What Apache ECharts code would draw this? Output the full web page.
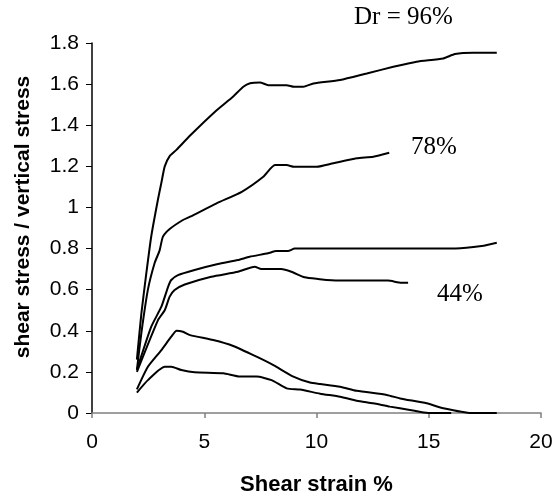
<!DOCTYPE html>
<html>
<head>
<meta charset="utf-8">
<script src="https://cdn.jsdelivr.net/npm/echarts@6/dist/echarts.min.js"></script>
<style>html,body{margin:0;padding:0;background:#fff}#c{width:554px;height:499px}</style>
</head>
<body>
<div id="c"></div>
<script>
// Dr = 96%
var s96_x = [2, 2.2, 2.42, 2.64, 2.94, 3.09, 3.24, 3.46, 3.76, 4.37, 5.48, 6.29, 6.74, 7.04, 7.48, 7.85, 8.67, 9.0, 9.41, 9.86, 11.05, 12.24, 13.42, 14.46, 15.65, 16.17, 16.99, 18.03];
var s96_y = [0.26, 0.485, 0.68, 0.86, 1.04, 1.12, 1.2, 1.25, 1.28, 1.35, 1.466, 1.54, 1.587, 1.604, 1.608, 1.595, 1.595, 1.587, 1.587, 1.603, 1.62, 1.652, 1.684, 1.709, 1.725, 1.746, 1.752, 1.752];
// Dr = 78%
var s78_x = [2, 2.2, 2.49, 2.79, 3.01, 3.16, 3.46, 4.05, 4.37, 5.55, 6.67, 7.63, 8.15, 8.67, 9.0, 9.71, 10.01, 10.75, 11.79, 12.53, 13.24];
var s78_y = [0.21, 0.39, 0.6, 0.73, 0.79, 0.858, 0.895, 0.939, 0.955, 1.02, 1.076, 1.149, 1.206, 1.206, 1.198, 1.198, 1.198, 1.215, 1.239, 1.247, 1.266];
// curve ending near 0.8
var s80_x = [2, 2.64, 3.09, 3.39, 3.53, 3.83, 4.57, 5.61, 6.5, 7.02, 7.84, 8.21, 8.73, 9.03, 14.97, 16.2, 17.36, 18.03];
var s80_y = [0.21, 0.42, 0.517, 0.614, 0.647, 0.671, 0.696, 0.725, 0.744, 0.76, 0.777, 0.788, 0.788, 0.8, 0.8, 0.8, 0.812, 0.828];
// curve ending near 0.63
var s63_x = [2, 2.94, 3.24, 3.46, 3.68, 4.13, 5.31, 6.5, 7.25, 7.54, 8.43, 8.88, 9.47, 10.07, 10.96, 13.18, 13.78, 14.08];
var s63_y = [0.2, 0.452, 0.5, 0.566, 0.598, 0.625, 0.663, 0.687, 0.712, 0.7, 0.7, 0.687, 0.66, 0.652, 0.644, 0.644, 0.634, 0.634];
// Dr = 44% (peak ~0.4)
var s40_x = [2, 2.49, 3.09, 3.53, 3.77, 4.05, 4.37, 5.4, 6.29, 7.33, 8.08, 8.97, 9.71, 10.16, 11.05, 11.79, 13.13, 13.72, 14.91, 15.65, 16.91, 18.03];
var s40_y = [0.115, 0.225, 0.306, 0.371, 0.4, 0.395, 0.379, 0.355, 0.326, 0.274, 0.233, 0.177, 0.148, 0.141, 0.128, 0.108, 0.088, 0.071, 0.047, 0.023, 0, 0];
// lowest curve (peak ~0.22)
var s22_x = [2, 2.49, 3.24, 3.53, 3.98, 4.57, 5.85, 6.59, 7.33, 8.0, 8.67, 9.27, 10.16, 11.05, 11.79, 12.53, 13.27, 14.16, 14.98, 16];
var s22_y = [0.099, 0.16, 0.225, 0.225, 0.209, 0.198, 0.193, 0.177, 0.177, 0.16, 0.12, 0.114, 0.094, 0.079, 0.06, 0.047, 0.031, 0.015, 0, 0];

var xTicks = [0, 5, 10, 15, 20];
var yTicks = [0, 0.2, 0.4, 0.6, 0.8, 1, 1.2, 1.4, 1.6, 1.8];
var labels = ["Dr = 96%", "78%", "44%"];

function pairs(xs, ys){ return xs.map(function(x,i){ return [x, ys[i]]; }); }
var allSeries = [[s96_x,s96_y],[s78_x,s78_y],[s80_x,s80_y],[s63_x,s63_y],[s40_x,s40_y],[s22_x,s22_y]];

var chart = echarts.init(document.getElementById('c'), null, {renderer:'canvas'});
var sans = 'Liberation Sans, Arial, sans-serif';
var serif = 'Liberation Serif, Times New Roman, serif';
chart.setOption({
  animation: false,
  backgroundColor: '#fff',
  grid: {left: 92, right: 13, top: 43, bottom: 86, containLabel: false, outerBoundsMode: 'none'},
  xAxis: {
    type: 'value', min: xTicks[0], max: xTicks[xTicks.length-1], interval: 5,
    name: 'Shear strain %', nameLocation: 'middle', nameGap: 61,
    nameTextStyle: {fontFamily: sans, fontWeight: 'bold', fontSize: 22, color: '#000'},
    axisLine: {show: true, onZero: false, lineStyle: {color: '#808080', width: 1.5}},
    axisTick: {show: true, inside: false, length: 5, lineStyle: {color: '#808080', width: 1.5}},
    axisLabel: {fontFamily: sans, fontSize: 21, color: '#000', margin: 19},
    splitLine: {show: false}
  },
  yAxis: {
    type: 'value', min: yTicks[0], max: yTicks[yTicks.length-1], interval: 0.2,
    name: 'shear stress / vertical stress', nameLocation: 'middle', nameGap: 58, nameRotate: 90,
    nameTextStyle: {fontFamily: sans, fontWeight: 'bold', fontSize: 21, color: '#000', padding: [0, 0, 0, 22]},
    axisLine: {show: true, lineStyle: {color: '#000', width: 1.5}},
    axisTick: {show: true, inside: false, length: 6, lineStyle: {color: '#000', width: 1}},
    axisLabel: {fontFamily: sans, fontSize: 21, color: '#000', margin: 13},
    splitLine: {show: false}
  },
  series: allSeries.map(function(s){
    return {type: 'line', data: pairs(s[0], s[1]), showSymbol: false, symbol: 'none',
      smooth: 0.2, lineStyle: {color: '#000', width: 2}, z: 3};
  }),
  graphic: [
    {type: 'text', left: 354, top: 5, style: {text: labels[0], font: '25px ' + serif, fill: '#000'}},
    {type: 'text', left: 411, top: 135, style: {text: labels[1], font: '25px ' + serif, fill: '#000'}},
    {type: 'text', left: 437, top: 282, style: {text: labels[2], font: '25px ' + serif, fill: '#000'}}
  ]
});
</script>
</body>
</html>
